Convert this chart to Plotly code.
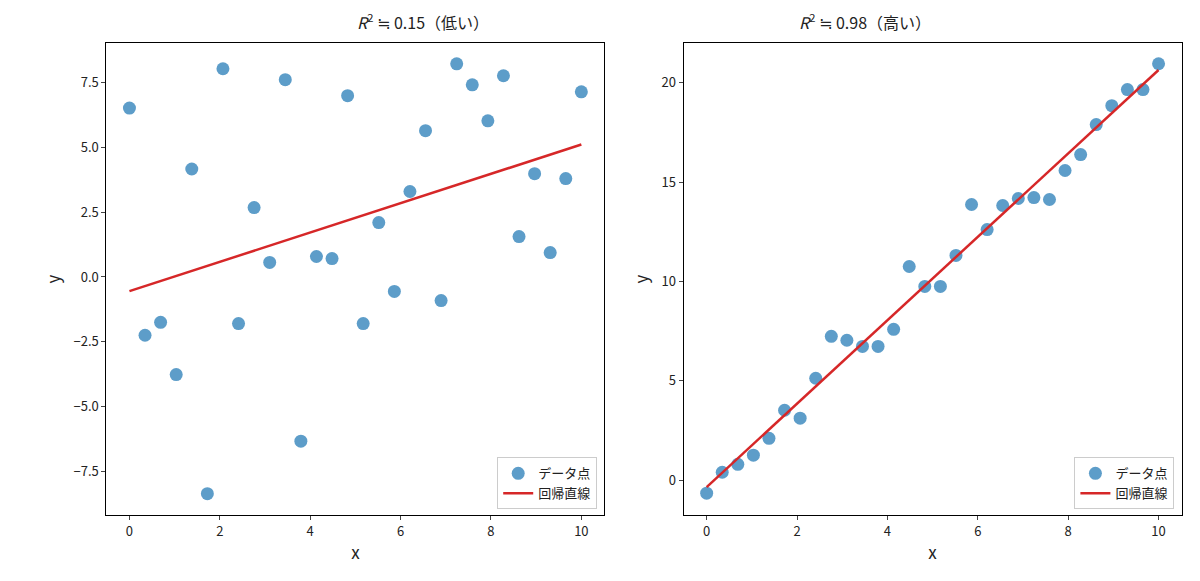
import numpy as np
import plotly.graph_objects as go

x = np.linspace(0, 10, 30)

y_low = [6.52, -2.25, -1.75, -3.77, 4.17, -8.37, 8.04, -1.8, 2.68, 0.56,
         7.62, -6.34, 0.79, 0.71, 7.0, -1.8, 2.1, -0.56, 3.3, 5.65,
         -0.91, 8.23, 7.42, 6.03, 7.77, 1.56, 3.99, 0.94, 3.8, 7.15]
y_high = [-0.65, 0.4, 0.8, 1.26, 2.11, 3.52, 3.12, 5.13, 7.24, 7.04,
          6.73, 6.73, 7.59, 10.75, 9.75, 9.75, 11.31, 13.87, 12.61, 13.82,
          14.17, 14.22, 14.12, 15.58, 16.38, 17.89, 18.84, 19.65, 19.65, 20.95]

titles = ["<i>R</i><sup>2</sup> ≒ 0.15（低い）", "<i>R</i><sup>2</sup> ≒ 0.98（高い）"]

BLUE = "rgba(31,119,180,0.72)"
RED = "#d62728"
FONT = "Noto Sans CJK JP, DejaVu Sans, sans-serif"

fig = go.Figure()
panels = [(y_low, "x", "y", "legend"), (y_high, "x2", "y2", "legend2")]
for ys, xa, ya, lg in panels:
    k, b = np.polyfit(x, ys, 1)
    fig.add_scatter(x=x, y=ys, mode="markers", xaxis=xa, yaxis=ya, legend=lg,
                    marker=dict(color=BLUE, size=13), name="データ点")
    fig.add_scatter(x=x, y=k * x + b, mode="lines", xaxis=xa, yaxis=ya, legend=lg,
                    line=dict(color=RED, width=2.5), name="回帰直線")

ax = dict(showgrid=False, zeroline=False, showline=True, linecolor="black", mirror=True,
          ticks="outside", ticklen=4, tickfont=dict(size=13, color="#222"))
fig.update_layout(
    width=1200, height=581, margin=dict(l=0, r=0, t=0, b=0),
    plot_bgcolor="white", paper_bgcolor="white",
    font=dict(family=FONT, color="#222"),
    xaxis=dict(ax, domain=[0.082, 0.497], range=[-0.51, 10.51], dtick=2,
               title=dict(text="x", font=dict(size=17), standoff=8)),
    yaxis=dict(ax, domain=[0.127, 0.940], range=[-9.2, 9.04], dtick=2.5, tickformat=".1f",
               title=dict(text="y", font=dict(size=17), standoff=8)),
    xaxis2=dict(ax, domain=[0.563, 0.978], range=[-0.51, 10.51], dtick=2, anchor="y2",
                title=dict(text="x", font=dict(size=17), standoff=8)),
    yaxis2=dict(ax, domain=[0.127, 0.940], range=[-1.76, 22.0], dtick=5, anchor="x2",
                title=dict(text="y", font=dict(size=17), standoff=8)),
    legend=dict(x=0.491, y=0.137, xanchor="right", yanchor="bottom",
                bordercolor="#ccc", borderwidth=1, bgcolor="rgba(255,255,255,0.8)",
                font=dict(size=13)),
    legend2=dict(x=0.972, y=0.137, xanchor="right", yanchor="bottom",
                 bordercolor="#ccc", borderwidth=1, bgcolor="rgba(255,255,255,0.8)",
                 font=dict(size=13)),
    annotations=[
        dict(text=titles[0], x=0.2895, y=0.951, xref="paper", yref="paper",
             showarrow=False, yanchor="bottom", font=dict(size=16)),
        dict(text=titles[1], x=0.7705, y=0.951, xref="paper", yref="paper",
             showarrow=False, yanchor="bottom", font=dict(size=16)),
    ],
)

fig.write_html("out.html")
